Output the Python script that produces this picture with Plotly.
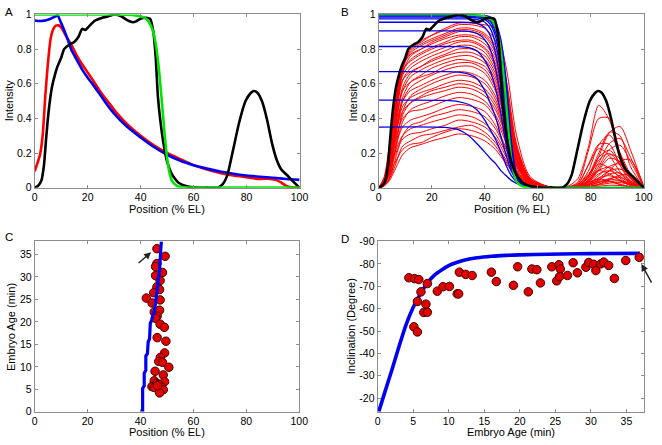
import plotly.graph_objects as go

# ---------------- shared curves (panels A and B) ----------------
black_x = [0, 1.2, 2.5, 3.5, 4.4, 5.4, 6.5, 7.6, 8.6, 10, 11.1, 13, 14.8, 16.5, 17.9, 19.1, 20.4, 22.8,
           25.3, 27.8, 30.2, 32.7, 34.6, 37, 38.3, 40.1, 42.6, 43.6, 44.8, 45.7, 46.5, 47.5, 48.8, 50,
           51.9, 54.3, 57.4, 61, 65, 69.1, 71, 72.8, 74.8, 77.2, 79.6, 81.5, 82.7, 84, 85.8, 87.7,
           89.5, 91.4, 93.2, 95.7, 98.1, 100]
black_y = [0, 0.01, 0.04, 0.13, 0.3, 0.46, 0.58, 0.65, 0.7, 0.75, 0.8, 0.825, 0.84, 0.87, 0.917, 0.91,
           0.93, 0.965, 0.98, 0.99, 1.0, 0.99, 0.97, 0.955, 0.96, 0.977, 0.98, 0.975, 0.9, 0.75, 0.53,
           0.38, 0.24, 0.15, 0.075, 0.028, 0.008, 0, 0, 0, 0.02, 0.075, 0.21, 0.376, 0.5, 0.545, 0.558,
           0.55, 0.5, 0.395, 0.263, 0.16, 0.103, 0.066, 0.028, 0]

green_x = [0, 10, 20, 30, 35, 38, 40, 42, 43, 44, 45, 46, 47, 48, 49, 50, 51, 52, 54, 56, 60, 70, 80, 90, 100]
green_y = [1, 1, 1, 1, 0.998, 0.995, 0.99, 0.975, 0.96, 0.93, 0.885, 0.8, 0.67, 0.5, 0.32, 0.17, 0.08,
           0.035, 0.008, 0.002, 0, 0, 0, 0, 0]

# ---------------- panel A ----------------
A_red_x = [0, 1, 2, 3, 4, 5, 6, 7, 8, 9, 10, 11, 12, 14, 16, 18, 20, 22, 25, 28, 31, 35, 40, 45, 50,
           55, 60, 65, 70, 75, 80, 85, 88, 91, 93, 95, 97, 100]
A_red_y = [0.095, 0.14, 0.19, 0.3, 0.53, 0.72, 0.86, 0.915, 0.935, 0.937, 0.925, 0.9, 0.87, 0.82, 0.76,
           0.71, 0.665, 0.62, 0.55, 0.49, 0.43, 0.365, 0.3, 0.245, 0.2, 0.165, 0.13, 0.105, 0.085, 0.07,
           0.06, 0.05, 0.052, 0.045, 0.03, 0.01, 0.002, 0]
A_blue_x = [0, 2, 4, 6, 7, 8, 8.6, 10, 12, 14, 16, 18, 20, 22, 25, 28, 31, 35, 40, 45, 50, 55, 60, 65,
            70, 75, 80, 85, 90, 95, 100]
A_blue_y = [0.965, 0.962, 0.965, 0.975, 0.983, 0.99, 0.997, 0.95, 0.875, 0.79, 0.735, 0.68, 0.635,
            0.595, 0.53, 0.465, 0.41, 0.35, 0.29, 0.235, 0.19, 0.155, 0.13, 0.11, 0.093, 0.08, 0.07,
            0.063, 0.057, 0.05, 0.045]

# ---------------- panel B ----------------
B_red_x = [0, 2, 4, 6, 9, 12, 16, 20, 25, 30, 35, 40, 44, 48, 52, 57, 64, 70, 75, 79, 83, 87, 91, 95, 100]
B_red_1 = [0, 0.01, 0.04, 0.1, 0.19, 0.23, 0.25, 0.27, 0.29, 0.31, 0.3, 0.27, 0.22, 0.14, 0.06, 0.015, 0, 0, 0.003, 0.015, 0.03, 0.048, 0.04, 0.015, 0]
B_red_2 = [0, 0.02, 0.07, 0.14, 0.22, 0.25, 0.26, 0.29, 0.32, 0.34, 0.33, 0.3, 0.24, 0.15, 0.065, 0.015, 0, 0, 0.006, 0.04, 0.1, 0.118, 0.08, 0.03, 0]
B_red_3 = [0, 0.015, 0.05, 0.12, 0.24, 0.27, 0.3, 0.31, 0.33, 0.35, 0.36, 0.32, 0.26, 0.16, 0.07, 0.016, 0, 0, 0, 0.005, 0.015, 0.026, 0.029, 0.018, 0]
B_red_4 = [0, 0.02, 0.08, 0.18, 0.28, 0.31, 0.32, 0.34, 0.36, 0.39, 0.38, 0.35, 0.29, 0.18, 0.08, 0.018, 0, 0, 0.01, 0.06, 0.16, 0.198, 0.13, 0.05, 0]
B_red_5 = [0, 0.03, 0.1, 0.2, 0.3, 0.34, 0.36, 0.38, 0.4, 0.42, 0.41, 0.37, 0.31, 0.2, 0.085, 0.02, 0, 0, 0.002, 0.014, 0.045, 0.079, 0.085, 0.04, 0]
B_red_6 = [0, 0.01, 0.05, 0.15, 0.3, 0.36, 0.38, 0.41, 0.43, 0.45, 0.44, 0.41, 0.34, 0.22, 0.09, 0.022, 0.001, 0, 0.003, 0.021, 0.07, 0.123, 0.137, 0.08, 0]
B_red_7 = [0, 0.02, 0.09, 0.22, 0.35, 0.39, 0.41, 0.43, 0.46, 0.48, 0.47, 0.44, 0.36, 0.23, 0.095, 0.023, 0.001, 0, 0.004, 0.02, 0.038, 0.035, 0.018, 0.005, 0]
B_red_8 = [0, 0.03, 0.12, 0.26, 0.4, 0.44, 0.45, 0.47, 0.5, 0.52, 0.51, 0.48, 0.4, 0.26, 0.1, 0.025, 0.002, 0, 0.02, 0.13, 0.25, 0.25, 0.13, 0.035, 0]
B_red_9 = [0, 0.02, 0.08, 0.2, 0.38, 0.45, 0.48, 0.5, 0.53, 0.55, 0.54, 0.5, 0.42, 0.28, 0.11, 0.027, 0.002, 0, 0.004, 0.021, 0.056, 0.069, 0.045, 0.018, 0]
B_red_10 = [0, 0.04, 0.15, 0.3, 0.44, 0.49, 0.52, 0.54, 0.56, 0.58, 0.57, 0.53, 0.45, 0.3, 0.12, 0.028, 0.002, 0, 0, 0.008, 0.04, 0.1, 0.155, 0.16, 0.01]
B_red_11 = [0, 0.02, 0.1, 0.24, 0.42, 0.49, 0.53, 0.56, 0.58, 0.6, 0.59, 0.55, 0.47, 0.31, 0.125, 0.03, 0.002, 0, 0.002, 0.017, 0.055, 0.097, 0.108, 0.066, 0]
B_red_12 = [0, 0.03, 0.13, 0.28, 0.47, 0.52, 0.55, 0.57, 0.6, 0.62, 0.61, 0.57, 0.49, 0.33, 0.13, 0.031, 0.002, 0, 0.007, 0.054, 0.18, 0.317, 0.353, 0.216, 0]
B_red_13 = [0, 0.01, 0.06, 0.2, 0.44, 0.53, 0.57, 0.6, 0.63, 0.65, 0.64, 0.6, 0.51, 0.34, 0.135, 0.032, 0.003, 0, 0.001, 0.009, 0.03, 0.053, 0.059, 0.036, 0]
B_red_14 = [0, 0.03, 0.12, 0.3, 0.5, 0.56, 0.59, 0.62, 0.65, 0.67, 0.66, 0.62, 0.53, 0.36, 0.14, 0.033, 0.003, 0, 0.011, 0.066, 0.176, 0.216, 0.143, 0.055, 0]
B_red_15 = [0, 0.02, 0.09, 0.26, 0.5, 0.58, 0.62, 0.65, 0.68, 0.7, 0.7, 0.66, 0.56, 0.38, 0.15, 0.035, 0.003, 0, 0.01, 0.055, 0.098, 0.08, 0.04, 0.012, 0]
B_red_16 = [0, 0.04, 0.16, 0.36, 0.56, 0.61, 0.64, 0.66, 0.7, 0.72, 0.72, 0.68, 0.58, 0.39, 0.155, 0.036, 0.003, 0, 0.016, 0.093, 0.248, 0.304, 0.2, 0.078, 0]
B_red_17 = [0, 0.02, 0.1, 0.28, 0.52, 0.61, 0.65, 0.69, 0.72, 0.74, 0.73, 0.7, 0.6, 0.41, 0.16, 0.037, 0.003, 0, 0, 0.003, 0.008, 0.014, 0.012, 0.004, 0]
B_red_18 = [0, 0.03, 0.13, 0.33, 0.56, 0.64, 0.68, 0.71, 0.74, 0.76, 0.76, 0.72, 0.62, 0.42, 0.165, 0.038, 0.003, 0, 0.004, 0.03, 0.1, 0.17, 0.15, 0.06, 0]
B_red_19 = [0, 0.05, 0.2, 0.42, 0.62, 0.67, 0.7, 0.73, 0.76, 0.78, 0.78, 0.74, 0.64, 0.44, 0.17, 0.04, 0.004, 0, 0.03, 0.21, 0.4, 0.4, 0.2, 0.055, 0]
B_red_20 = [0, 0.02, 0.11, 0.3, 0.58, 0.66, 0.7, 0.74, 0.77, 0.8, 0.8, 0.76, 0.66, 0.45, 0.175, 0.04, 0.004, 0, 0, 0.004, 0.02, 0.048, 0.072, 0.076, 0.004]
B_red_21 = [0, 0.03, 0.14, 0.36, 0.62, 0.69, 0.73, 0.76, 0.79, 0.82, 0.82, 0.78, 0.68, 0.47, 0.18, 0.042, 0.004, 0, 0.005, 0.038, 0.125, 0.22, 0.245, 0.15, 0]
B_red_22 = [0, 0.04, 0.17, 0.4, 0.65, 0.71, 0.75, 0.78, 0.81, 0.84, 0.84, 0.8, 0.7, 0.48, 0.19, 0.043, 0.004, 0, 0.005, 0.03, 0.049, 0.04, 0.02, 0.006, 0]
B_red_23 = [0, 0.05, 0.22, 0.46, 0.68, 0.73, 0.77, 0.8, 0.83, 0.85, 0.85, 0.81, 0.72, 0.5, 0.2, 0.045, 0.004, 0, 0.014, 0.077, 0.137, 0.112, 0.056, 0.017, 0]
B_red_24 = [0, 0.03, 0.15, 0.4, 0.67, 0.74, 0.78, 0.81, 0.84, 0.87, 0.87, 0.83, 0.74, 0.52, 0.21, 0.047, 0.005, 0, 0.023, 0.127, 0.225, 0.184, 0.092, 0.028, 0]
B_red_25 = [0, 0.06, 0.25, 0.5, 0.7, 0.77, 0.8, 0.83, 0.86, 0.88, 0.88, 0.85, 0.76, 0.54, 0.215, 0.048, 0.005, 0, 0.05, 0.23, 0.475, 0.39, 0.19, 0.06, 0]
B_red_26 = [0, 0.02, 0.12, 0.36, 0.66, 0.76, 0.8, 0.84, 0.87, 0.9, 0.9, 0.87, 0.78, 0.56, 0.22, 0.05, 0.005, 0, 0.001, 0.006, 0.02, 0.035, 0.039, 0.024, 0]
B_red_27 = [0, 0.04, 0.18, 0.44, 0.7, 0.78, 0.82, 0.85, 0.88, 0.91, 0.91, 0.88, 0.8, 0.58, 0.23, 0.052, 0.005, 0, 0.005, 0.033, 0.11, 0.19, 0.17, 0.066, 0]
B_red_28 = [0, 0.03, 0.14, 0.4, 0.68, 0.79, 0.83, 0.86, 0.89, 0.92, 0.92, 0.89, 0.82, 0.6, 0.24, 0.054, 0.006, 0, 0.01, 0.07, 0.2, 0.32, 0.3, 0.12, 0]
B_red_29 = [0, 0.05, 0.2, 0.47, 0.7, 0.81, 0.85, 0.88, 0.91, 0.94, 0.94, 0.92, 0.85, 0.63, 0.25, 0.056, 0.006, 0, 0.005, 0.03, 0.08, 0.098, 0.065, 0.025, 0]
B_red_30 = [0, 0.03, 0.16, 0.42, 0.69, 0.8, 0.84, 0.88, 0.92, 0.95, 0.95, 0.94, 0.92, 0.7, 0.3, 0.065, 0.006, 0, 0.006, 0.044, 0.145, 0.255, 0.284, 0.174, 0]
B_red_curves = [B_red_1, B_red_2, B_red_3, B_red_4, B_red_5, B_red_6, B_red_7, B_red_8, B_red_9, B_red_10,
                B_red_11, B_red_12, B_red_13, B_red_14, B_red_15, B_red_16, B_red_17, B_red_18, B_red_19,
                B_red_20, B_red_21, B_red_22, B_red_23, B_red_24, B_red_25, B_red_26, B_red_27, B_red_28,
                B_red_29, B_red_30]

B_blue_x = [0, 25, 30, 34, 37, 40, 42, 44, 46, 48, 50, 52, 55, 60, 70, 100]
B_blue_1 = [0.35, 0.348, 0.335, 0.3, 0.255, 0.205, 0.17, 0.14, 0.1, 0.07, 0.042, 0.025, 0.01, 0.002, 0, 0]
B_blue_2 = [0.505, 0.504, 0.497, 0.48, 0.45, 0.39, 0.335, 0.28, 0.21, 0.13, 0.07, 0.035, 0.012, 0.002, 0, 0]
B_blue_3 = [0.67, 0.67, 0.667, 0.655, 0.63, 0.56, 0.49, 0.41, 0.3, 0.19, 0.095, 0.045, 0.014, 0.002, 0, 0]
B_blue_4 = [0.815, 0.815, 0.814, 0.808, 0.79, 0.735, 0.675, 0.575, 0.43, 0.25, 0.115, 0.048, 0.015, 0.003, 0, 0]
B_blue_5 = [0.905, 0.905, 0.905, 0.902, 0.89, 0.855, 0.8, 0.69, 0.52, 0.3, 0.13, 0.05, 0.015, 0.003, 0, 0]
B_blue_6 = [0.955, 0.955, 0.955, 0.954, 0.948, 0.925, 0.88, 0.78, 0.6, 0.35, 0.145, 0.054, 0.016, 0.003, 0, 0]
B_blue_7 = [0.975, 0.975, 0.975, 0.974, 0.97, 0.955, 0.92, 0.835, 0.67, 0.4, 0.16, 0.058, 0.017, 0.003, 0, 0]
B_blue_8 = [0.985, 0.985, 0.985, 0.984, 0.98, 0.97, 0.945, 0.875, 0.72, 0.45, 0.18, 0.062, 0.018, 0.003, 0, 0]
B_blue_9 = [0.99, 0.99, 0.99, 0.989, 0.986, 0.978, 0.96, 0.9, 0.76, 0.5, 0.2, 0.066, 0.019, 0.003, 0, 0]
B_blue_10 = [0.995, 0.995, 0.995, 0.994, 0.992, 0.985, 0.97, 0.92, 0.8, 0.55, 0.22, 0.07, 0.02, 0.003, 0, 0]
B_blue_11 = [0.998, 0.998, 0.998, 0.997, 0.996, 0.99, 0.978, 0.94, 0.83, 0.59, 0.245, 0.075, 0.021, 0.003, 0, 0]
B_blue_12 = [1.0, 1.0, 1.0, 0.999, 0.998, 0.994, 0.985, 0.955, 0.86, 0.63, 0.27, 0.08, 0.022, 0.003, 0, 0]
B_blue_curves = [B_blue_1, B_blue_2, B_blue_3, B_blue_4, B_blue_5, B_blue_6, B_blue_7, B_blue_8,
                 B_blue_9, B_blue_10, B_blue_11, B_blue_12]

# ---------------- panel C ----------------
C_pos = [46.2, 49.3, 46.2, 45.7, 48.3, 45.7, 47.4, 46.2, 47.2, 45.0, 42.2, 47.4, 44.4, 45.2, 47.2, 46.3,
         45.7, 47.4, 49.0, 46.3, 49.6, 49.1, 47.5, 46.9, 48.3, 50.7, 45.5, 48.6, 49.1, 45.2, 46.2, 44.3,
         45.2, 46.9, 48.0, 48.6, 47.2, 46.4]
C_age = [36.3, 34.6, 33.0, 32.3, 31.0, 30.3, 29.2, 27.8, 27.2, 26.5, 25.3, 24.9, 24.2, 22.2, 22.6, 21.3,
         20.8, 19.5, 18.8, 16.5, 15.7, 13.1, 12.1, 11.2, 11.0, 9.9, 9.0, 8.2, 6.7, 6.9, 6.3, 5.6,
         5.4, 6.1, 5.4, 4.9, 4.2, 5.8]
C_line_x = [40.8, 40.8, 41.4, 41.4, 42.0, 42.0, 42.6, 42.9, 43.4, 43.7, 44.2, 44.4, 44.6, 45.3, 45.9,
            46.1, 46.5, 46.8, 47.2, 47.7, 47.9]
C_line_y = [0, 5.2, 5.8, 8.6, 9.2, 12.4, 12.9, 15.6, 16.2, 19.7, 20.3, 21.0, 21.4, 22.4, 25.8, 26.4,
            28.4, 30.0, 31.5, 36.5, 37.9]

# ---------------- panel D ----------------
D_age = [4.4, 5.2, 5.8, 5.1, 5.6, 5.6, 6.1, 6.5, 7.0, 6.8, 7.0, 8.4, 9.2, 10.1, 11.2, 11.4, 11.5, 12.4,
         13.3, 16.0, 16.7, 19.1, 19.7, 21.2, 21.7, 22.4, 22.9, 24.5, 25.2, 25.5, 25.7, 25.6, 26.7, 27.5,
         28.1, 29.3, 29.7, 30.4, 30.7, 31.4, 31.8, 32.5, 33.3, 34.9, 36.8]
D_incl = [-73.8, -73.4, -73.0, -51.9, -49.6, -63.2, -67.5, -58.3, -58.4, -62.0, -71.2, -67.8, -69.8,
          -69.9, -66.6, -66.6, -76.3, -75.3, -74.8, -76.3, -72.1, -70.4, -78.7, -67.5, -77.7, -77.4,
          -71.5, -78.7, -72.4, -79.6, -77.7, -74.3, -74.8, -80.5, -76.0, -78.5, -80.6, -79.8, -77.0,
          -80.0, -80.8, -79.3, -73.5, -81.5, -82.9]
D_fit_x = [0.17, 1, 2, 3, 4, 5, 6, 7, 8, 9, 10, 11, 12, 14, 16, 18, 20, 24, 28, 32, 36.9]
D_fit_y = [-14, -22.5, -32.5, -43, -52.8, -60.5, -66.5, -71.5, -75, -77.3, -79.2, -80.5, -81.5, -82.7,
           -83.4, -83.8, -84.0, -84.3, -84.5, -84.6, -84.7]

# ---------------- ticks ----------------
pos_ticks = [0, 20, 40, 60, 80, 100]
int_ticks = [0, 0.2, 0.4, 0.6, 0.8, 1]
int_labels = ["0", "0.2", "0.4", "0.6", "0.8", "1"]
age_ticks = [0, 5, 10, 15, 20, 25, 30, 35]
incl_ticks = [-90, -80, -70, -60, -50, -40, -30, -20]
incl_labels = ["-90", "-80", "-70", "-60", "-50", "-40", "-30", "-20"]

RED = "rgb(255,0,0)"
BLUE = "rgb(0,0,240)"
GREEN = "rgb(0,230,0)"
BLACK = "rgb(0,0,0)"
FRAME = "#8c8c8c"
FONT = "Liberation Sans, Arial, sans-serif"

fig = go.Figure()

# Panel A
fig.add_trace(go.Scatter(x=A_red_x, y=A_red_y, mode="lines", line=dict(color=RED, width=2.6, shape="spline", smoothing=0.6), xaxis="x", yaxis="y"))
fig.add_trace(go.Scatter(x=A_blue_x, y=A_blue_y, mode="lines", line=dict(color=BLUE, width=2.6, shape="spline", smoothing=0.6), xaxis="x", yaxis="y"))
fig.add_trace(go.Scatter(x=black_x, y=black_y, mode="lines", line=dict(color=BLACK, width=2.6, shape="spline", smoothing=0.5), xaxis="x", yaxis="y"))
fig.add_trace(go.Scatter(x=green_x, y=green_y, mode="lines", line=dict(color=GREEN, width=2.6, shape="spline", smoothing=0.6), xaxis="x", yaxis="y"))

# Panel B
for curve in B_red_curves:
    fig.add_trace(go.Scatter(x=B_red_x, y=curve, mode="lines", line=dict(color=RED, width=1, shape="spline", smoothing=0.8), xaxis="x2", yaxis="y2"))
for curve in B_blue_curves:
    fig.add_trace(go.Scatter(x=B_blue_x, y=curve, mode="lines", line=dict(color=BLUE, width=1.3, shape="spline", smoothing=0.7), xaxis="x2", yaxis="y2"))
fig.add_trace(go.Scatter(x=green_x, y=green_y, mode="lines", line=dict(color=GREEN, width=2.2, shape="spline", smoothing=0.6), xaxis="x2", yaxis="y2"))
fig.add_trace(go.Scatter(x=black_x, y=black_y, mode="lines", line=dict(color=BLACK, width=2.6, shape="spline", smoothing=0.5), xaxis="x2", yaxis="y2"))

# Panel C
marker_style = dict(size=8.5, color="rgb(225,0,0)", line=dict(color="rgb(70,0,0)", width=1))
fig.add_trace(go.Scatter(x=C_pos, y=C_age, mode="markers", marker=marker_style, xaxis="x3", yaxis="y3"))
fig.add_trace(go.Scatter(x=C_line_x, y=C_line_y, mode="lines", line=dict(color=BLUE, width=3.2), xaxis="x3", yaxis="y3"))

# Panel D
fig.add_trace(go.Scatter(x=D_fit_x, y=D_fit_y, mode="lines", line=dict(color=BLUE, width=3.6, shape="spline", smoothing=0.6), xaxis="x4", yaxis="y4"))
fig.add_trace(go.Scatter(x=D_age, y=D_incl, mode="markers", marker=marker_style, xaxis="x4", yaxis="y4"))

W, H = 662, 445


def ax(domain, rng, tickvals, ticktext=None, anchor=None):
    d = dict(domain=domain, range=rng, tickvals=tickvals, showline=True, linecolor=FRAME, linewidth=1,
             mirror="allticks", ticks="inside", ticklen=3, tickcolor=FRAME, showgrid=False,
             zeroline=False, tickfont=dict(size=10.5, color="black", family=FONT), anchor=anchor,
             fixedrange=True)
    if ticktext is not None:
        d["ticktext"] = ticktext
    return d


def px_x(p):
    return p / W


def px_y(p):
    return 1 - p / H


xA = [px_x(32.3), px_x(302)]
xB = [px_x(382.7), px_x(652.7)]
xC = [px_x(32.3), px_x(301.7)]
xD = [px_x(381.5), px_x(652.7)]
yTop = [px_y(186.7), px_y(8.7)]
yBot = [px_y(417), px_y(242)]

fig.update_layout(
    width=W, height=H, margin=dict(l=0, r=0, t=0, b=0),
    paper_bgcolor="white", plot_bgcolor="white", showlegend=False,
    font=dict(family=FONT, size=11, color="black"),
    xaxis=ax(xA, [0, 100], pos_ticks, anchor="y"),
    yaxis=ax(yTop, [0, 1], int_ticks, int_labels, anchor="x"),
    xaxis2=ax(xB, [0, 100], pos_ticks, anchor="y2"),
    yaxis2=ax(yTop, [0, 1], int_ticks, int_labels, anchor="x2"),
    xaxis3=ax(xC, [0, 100], pos_ticks, anchor="y3"),
    yaxis3=ax(yBot, [0, 37.9], age_ticks, anchor="x3"),
    xaxis4=ax(xD, [0, 37.45], age_ticks, anchor="y4"),
    yaxis4=ax(yBot, [-13.94, -90], incl_ticks, incl_labels, anchor="x4"),
)

ann = []


def label(text, x, y, size=11, angle=0):
    ann.append(dict(text=text, x=px_x(x), y=px_y(y), xref="paper", yref="paper", showarrow=False,
                    xanchor="center", yanchor="middle", textangle=angle,
                    font=dict(size=size, family=FONT, color="black")))


label("A", 6, 6, 11.5)
label("B", 348, 6, 11.5)
label("C", 6, 237, 11.5)
label("D", 348, 239, 11.5)
label("Intensity", 5.5, 97.5, 11, -90)
label("Intensity", 356, 97.5, 11, -90)
label("Position (% EL)", 167, 208.5)
label("Position (% EL)", 518, 208.5)
label("Position (% EL)", 167, 437.5)
label("Embryo Age (min)", 7.5, 329.5, 11, -90)
label("Inclination (Degree)", 354, 329.5, 11, -90)
label("Embryo Age (min)", 517, 437.5)

# arrows
ann.append(dict(x=44.0, y=35.5, xref="x3", yref="y3", ax=-14, ay=12, axref="pixel", ayref="pixel",
                showarrow=True, arrowhead=2, arrowsize=1, arrowwidth=1.4, arrowcolor="#222222", text=""))
ann.append(dict(x=37.1, y=-79.9, xref="x4", yref="y4", ax=11, ay=20, showarrow=True, arrowhead=2,
                arrowsize=1, arrowwidth=1.4, arrowcolor="#222222", text=""))

fig.update_layout(annotations=ann)
fig.write_html("out.html", config={"displayModeBar": False},
               post_script="document.body.style.margin='0px';document.body.style.overflow='hidden';")
